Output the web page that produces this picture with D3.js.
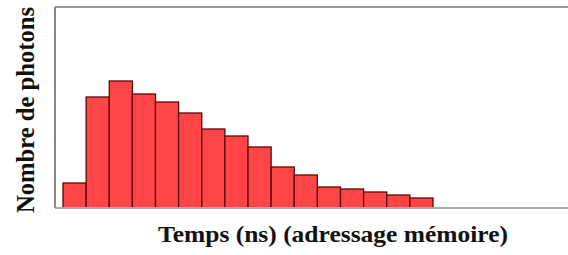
<!DOCTYPE html>
<html><head><meta charset="utf-8">
<script src="https://cdn.jsdelivr.net/npm/d3@7"></script>
<style>html,body{margin:0;padding:0;background:#fff;}svg{display:block;}</style>
</head><body>
<svg id="c" width="568" height="255"></svg>
<script>
const bins = d3.range(16).map(i => "b" + (i + 1));
const photons = [25, 111, 127, 114, 106, 95, 79, 72, 61, 41, 33, 21, 19, 16, 13, 10];
const xLabel = "Temps (ns) (adressage mémoire)";
const yLabel = "Nombre de photons";

(function () {
const svg = d3.select("#c");
const mL = 55, mR = 568, mT = 7, mB = 208;
const x = d3.scaleBand().domain(bins).range([63, 433]).padding(0);
const y = d3.scaleLinear().domain([0, 201]).range([mB, mT]);

svg.append("g").selectAll("rect").data(photons).join("rect")
  .attr("x", (d, i) => x(bins[i]))
  .attr("y", d => y(d))
  .attr("width", x.bandwidth())
  .attr("height", d => y(0) - y(d))
  .attr("fill", "#ff4545")
  .attr("stroke", "#5a0808")
  .attr("stroke-width", 1.3);

svg.append("line").attr("x1", mL).attr("x2", mR).attr("y1", mT).attr("y2", mT)
  .attr("stroke", "#999").attr("stroke-width", 2);
svg.append("line").attr("x1", mL).attr("x2", mL).attr("y1", mT).attr("y2", mB)
  .attr("stroke", "#888").attr("stroke-width", 2);
svg.append("line").attr("x1", mL).attr("x2", mR).attr("y1", mB).attr("y2", mB)
  .attr("stroke", "#aaa").attr("stroke-width", 2);

svg.append("text").attr("x", 333).attr("y", 242).attr("text-anchor", "middle")
  .attr("font-family", "Liberation Serif, Times New Roman, serif")
  .attr("font-weight", "bold").attr("font-size", 23).attr("fill", "#111")
  .attr("textLength", 350).attr("lengthAdjust", "spacingAndGlyphs")
  .text(xLabel);
svg.append("text").attr("transform", "translate(34,110) rotate(-90)")
  .attr("text-anchor", "middle")
  .attr("font-family", "Liberation Serif, Times New Roman, serif")
  .attr("font-weight", "bold").attr("font-size", 25).attr("fill", "#111")
  .attr("textLength", 206).attr("lengthAdjust", "spacingAndGlyphs")
  .text(yLabel);
})();
</script>
</body></html>
